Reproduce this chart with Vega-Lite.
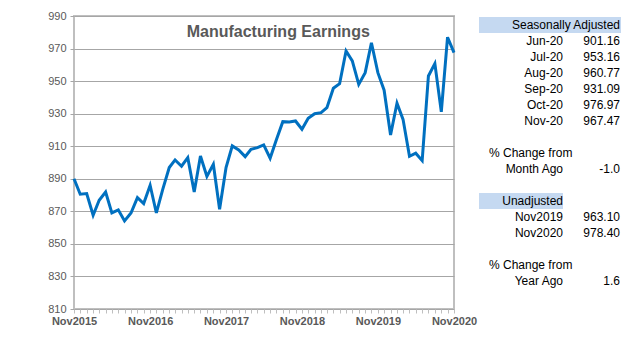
{
  "$schema": "https://vega.github.io/schema/vega-lite/v6.json",
  "padding": {"left": 0, "top": 9, "right": 0, "bottom": 0},
  "background": "white",
  "config": {"view": {"stroke": null}, "font": "Liberation Sans"},
  "spacing": 25,
  "bounds": "flush",
  "hconcat": [
    {
      "width": 380,
      "height": 293,
      "view": {"stroke": "#bfbfbf", "strokeWidth": 2},
      "encoding": {
        "x": {
          "type": "temporal",
          "scale": {"type": "utc", "nice": false},
          "axis": {
            "title": null,
            "grid": false,
            "domain": false,
            "tickCount": {"interval": "month", "step": 1},
            "labelExpr": "utcmonth(datum.value) == 10 ? 'Nov' + utcyear(datum.value) : ''",
            "labelFlush": false,
            "labelOverlap": false,
            "labelFont": "Liberation Sans",
            "labelFontSize": 11,
            "labelFontWeight": "bold",
            "labelColor": "#595959",
            "labelPadding": 2,
            "tickColor": "#bfbfbf",
            "tickSize": 4
          }
        },
        "y": {
          "type": "quantitative",
          "scale": {"domain": [810, 990], "nice": false, "zero": false},
          "axis": {
            "title": null,
            "domain": false,
            "values": [810, 830, 850, 870, 890, 910, 930, 950, 970, 990],
            "labelOverlap": false,
            "labelFont": "Liberation Sans",
            "labelFontSize": 11,
            "labelColor": "#595959",
            "labelPadding": 4,
            "tickSize": 4,
            "tickColor": "#a6a6a6",
            "gridColor": "#a6a6a6",
            "gridWidth": 1,
            "minExtent": 73,
            "maxExtent": 73
          }
        }
      },
      "layer": [
        {
          "data": {
            "values": [
              {"month": "2015-11-01", "earnings": 890.0},
              {"month": "2015-12-01", "earnings": 880.5},
              {"month": "2016-01-01", "earnings": 880.9},
              {"month": "2016-02-01", "earnings": 867.6},
              {"month": "2016-03-01", "earnings": 876.8},
              {"month": "2016-04-01", "earnings": 881.9},
              {"month": "2016-05-01", "earnings": 869.0},
              {"month": "2016-06-01", "earnings": 870.9},
              {"month": "2016-07-01", "earnings": 864.1},
              {"month": "2016-08-01", "earnings": 869.0},
              {"month": "2016-09-01", "earnings": 878.4},
              {"month": "2016-10-01", "earnings": 874.8},
              {"month": "2016-11-01", "earnings": 886.0},
              {"month": "2016-12-01", "earnings": 869.0},
              {"month": "2017-01-01", "earnings": 883.6},
              {"month": "2017-02-01", "earnings": 896.9},
              {"month": "2017-03-01", "earnings": 901.6},
              {"month": "2017-04-01", "earnings": 897.7},
              {"month": "2017-05-01", "earnings": 903.0},
              {"month": "2017-06-01", "earnings": 881.9},
              {"month": "2017-07-01", "earnings": 904.0},
              {"month": "2017-08-01", "earnings": 891.5},
              {"month": "2017-09-01", "earnings": 898.9},
              {"month": "2017-10-01", "earnings": 871.3},
              {"month": "2017-11-01", "earnings": 896.9},
              {"month": "2017-12-01", "earnings": 910.2},
              {"month": "2018-01-01", "earnings": 907.7},
              {"month": "2018-02-01", "earnings": 903.6},
              {"month": "2018-03-01", "earnings": 908.1},
              {"month": "2018-04-01", "earnings": 909.1},
              {"month": "2018-05-01", "earnings": 910.8},
              {"month": "2018-06-01", "earnings": 902.6},
              {"month": "2018-07-01", "earnings": 914.0},
              {"month": "2018-08-01", "earnings": 925.1},
              {"month": "2018-09-01", "earnings": 924.9},
              {"month": "2018-10-01", "earnings": 925.5},
              {"month": "2018-11-01", "earnings": 920.4},
              {"month": "2018-12-01", "earnings": 927.2},
              {"month": "2019-01-01", "earnings": 930.0},
              {"month": "2019-02-01", "earnings": 930.6},
              {"month": "2019-03-01", "earnings": 933.7},
              {"month": "2019-04-01", "earnings": 945.6},
              {"month": "2019-05-01", "earnings": 948.4},
              {"month": "2019-06-01", "earnings": 968.5},
              {"month": "2019-07-01", "earnings": 962.4},
              {"month": "2019-08-01", "earnings": 948.0},
              {"month": "2019-09-01", "earnings": 955.2},
              {"month": "2019-10-01", "earnings": 973.6},
              {"month": "2019-11-01", "earnings": 955.2},
              {"month": "2019-12-01", "earnings": 944.4},
              {"month": "2020-01-01", "earnings": 916.9},
              {"month": "2020-02-01", "earnings": 936.4},
              {"month": "2020-03-01", "earnings": 926.5},
              {"month": "2020-04-01", "earnings": 903.8},
              {"month": "2020-05-01", "earnings": 905.7},
              {"month": "2020-06-01", "earnings": 901.16},
              {"month": "2020-07-01", "earnings": 953.16},
              {"month": "2020-08-01", "earnings": 960.77},
              {"month": "2020-09-01", "earnings": 931.09},
              {"month": "2020-10-01", "earnings": 976.97},
              {"month": "2020-11-01", "earnings": 967.47}
            ]
          },
          "mark": {"type": "line", "color": "#0070c0", "strokeWidth": 3},
          "encoding": {
            "x": {"field": "month"},
            "y": {"field": "earnings"}
          }
        },
        {
          "data": {"values": [{"title": "Manufacturing Earnings"}]},
          "mark": {"type": "text", "align": "center", "baseline": "alphabetic", "font": "Liberation Sans", "fontSize": 16, "fontWeight": "bold", "color": "#595959"},
          "encoding": {
            "x": {"datum": {"year": 2018, "month": 7, "date": 10, "utc": true}},
            "y": {"datum": 977.1},
            "text": {"field": "title"}
          }
        }
      ]
    },
    {
      "width": 142,
      "height": 293,
      "data": {
        "values": [
          {"row": 0, "kind": "header", "col": "value", "text": "Seasonally Adjusted"},
          {"row": 1, "kind": "item", "col": "label", "text": "Jun-20"},
          {"row": 1, "kind": "item", "col": "value", "text": "901.16"},
          {"row": 2, "kind": "item", "col": "label", "text": "Jul-20"},
          {"row": 2, "kind": "item", "col": "value", "text": "953.16"},
          {"row": 3, "kind": "item", "col": "label", "text": "Aug-20"},
          {"row": 3, "kind": "item", "col": "value", "text": "960.77"},
          {"row": 4, "kind": "item", "col": "label", "text": "Sep-20"},
          {"row": 4, "kind": "item", "col": "value", "text": "931.09"},
          {"row": 5, "kind": "item", "col": "label", "text": "Oct-20"},
          {"row": 5, "kind": "item", "col": "value", "text": "976.97"},
          {"row": 6, "kind": "item", "col": "label", "text": "Nov-20"},
          {"row": 6, "kind": "item", "col": "value", "text": "967.47"},
          {"row": 8, "kind": "note", "col": "label", "text": "% Change from"},
          {"row": 9, "kind": "item", "col": "label", "text": "Month Ago"},
          {"row": 9, "kind": "item", "col": "value", "text": "-1.0"},
          {"row": 11, "kind": "header", "col": "label", "text": "Unadjusted"},
          {"row": 12, "kind": "item", "col": "label", "text": "Nov2019"},
          {"row": 12, "kind": "item", "col": "value", "text": "963.10"},
          {"row": 13, "kind": "item", "col": "label", "text": "Nov2020"},
          {"row": 13, "kind": "item", "col": "value", "text": "978.40"},
          {"row": 15, "kind": "note", "col": "label", "text": "% Change from"},
          {"row": 16, "kind": "item", "col": "label", "text": "Year Ago"},
          {"row": 16, "kind": "item", "col": "value", "text": "1.6"}
        ]
      },
      "encoding": {
        "y": {
          "field": "row",
          "type": "ordinal",
          "scale": {"domain": [0, 1, 2, 3, 4, 5, 6, 7, 8, 9, 10, 11, 12, 13, 14, 15, 16], "range": [1, 273], "paddingInner": 0, "paddingOuter": 0},
          "axis": null
        }
      },
      "layer": [
        {
          "transform": [{"filter": "datum.kind == 'header' && datum.col == 'value'"}],
          "mark": {"type": "rect", "color": "#c5d9f1"}
        },
        {
          "transform": [{"filter": "datum.kind == 'header' && datum.col == 'label'"}],
          "mark": {"type": "rect", "color": "#c5d9f1"},
          "encoding": {
            "x": {"field": "col", "type": "nominal", "scale": {"type": "band", "domain": ["label", "value"], "range": [0, 168], "paddingInner": 0, "paddingOuter": 0}, "axis": null}
          }
        },
        {
          "transform": [{"filter": "datum.col == 'value'"}],
          "mark": {"type": "text", "align": "right", "baseline": "middle", "font": "Liberation Sans", "fontSize": 12, "color": "#000000"},
          "encoding": {
            "x": {"field": "col", "type": "nominal", "bandPosition": 0.679, "scale": {"type": "band", "domain": ["label", "value"], "range": [0, 168], "paddingInner": 0, "paddingOuter": 0}, "axis": null},
            "text": {"field": "text"}
          }
        },
        {
          "transform": [{"filter": "datum.col == 'label' && datum.kind != 'note'"}],
          "mark": {"type": "text", "align": "right", "baseline": "middle", "font": "Liberation Sans", "fontSize": 12, "color": "#000000"},
          "encoding": {
            "x": {"field": "col", "type": "nominal", "bandPosition": 1, "scale": {"type": "band", "domain": ["label", "value"], "range": [0, 168], "paddingInner": 0, "paddingOuter": 0}, "axis": null},
            "text": {"field": "text"}
          }
        },
        {
          "transform": [{"filter": "datum.kind == 'note'"}],
          "mark": {"type": "text", "align": "left", "baseline": "middle", "dx": 10, "font": "Liberation Sans", "fontSize": 12, "color": "#000000"},
          "encoding": {
            "x": {"field": "col", "type": "nominal", "bandPosition": 0, "scale": {"type": "band", "domain": ["label", "value"], "range": [0, 168], "paddingInner": 0, "paddingOuter": 0}, "axis": null},
            "text": {"field": "text"}
          }
        }
      ]
    }
  ]
}
